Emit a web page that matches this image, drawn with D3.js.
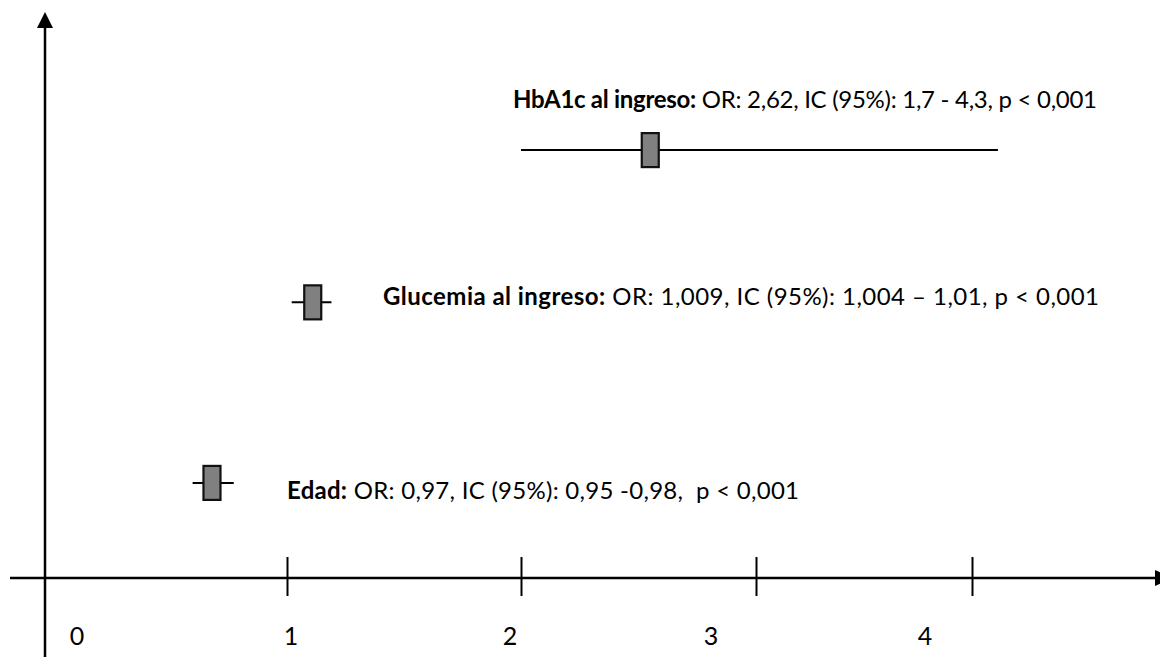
<!DOCTYPE html>
<html>
<head>
<meta charset="utf-8">
<script src="https://cdn.jsdelivr.net/npm/d3@7"></script>
<style>
  html, body { margin: 0; padding: 0; background: #fff; }
  svg { display: block; }
  text { font-family: Lato, "Open Sans", sans-serif; fill: #000; }
</style>
</head>
<body>
<svg id="chart" width="1160" height="657"></svg>
<script>
// ---- data (in axis units) ----
const variables   = ["HbA1c al ingreso", "Glucemia al ingreso", "Edad"];
const plottedOR   = [2.55, 1.11, 0.69];   // marker centre as drawn
const plottedLow  = [2.00, 1.02, 0.61];   // left end of drawn interval
const plottedHigh = [4.12, 1.19, 0.78];   // right end of drawn interval
const rowLevel    = [0.756, 0.487, 0.168]; // vertical placement (0 = x axis, 1 = top)
const statText    = [
  "OR: 2,62, IC (95%): 1,7 - 4,3, p < 0,001",
  "OR: 1,009, IC (95%): 1,004 \u2013 1,01, p < 0,001",
  "OR: 0,97, IC (95%): 0,95 -0,98,  p < 0,001"
];
const tickValues  = [1, 2, 3, 4];
const tickLabels  = ["0", "1", "2", "3", "4"];

// ---- layout ----
const W = 1160, H = 657;
const axisY = 578;
const svg = d3.select("#chart");

// hand-drawn axis: unevenly spaced ticks
const x = d3.scaleLinear().domain([0, 1, 2, 3, 4]).range([45, 287, 521, 756, 972]);
const y = d3.scaleLinear().domain([0, 1]).range([axisY, 12]);

// horizontal axis line with arrow
svg.append("line").attr("x1", 10).attr("x2", 1158).attr("y1", axisY).attr("y2", axisY)
  .attr("stroke", "#000").attr("stroke-width", 2.5);
svg.append("path").attr("d", `M1155,${axisY - 8} L1172,${axisY} L1155,${axisY + 8} Z`).attr("fill", "#000");

// vertical axis line with arrow
svg.append("line").attr("x1", x(0)).attr("x2", x(0)).attr("y1", 26).attr("y2", H)
  .attr("stroke", "#000").attr("stroke-width", 2.5);
svg.append("path").attr("d", `M${x(0) - 8},28 L${x(0)},12 L${x(0) + 8},28 Z`).attr("fill", "#000");

// ticks via d3 axis
const axisG = svg.append("g").attr("transform", `translate(0,${axisY})`)
  .call(d3.axisBottom(x).tickValues(tickValues).tickSize(18).tickFormat(""));
axisG.select(".domain").remove();
axisG.selectAll(".tick line").attr("y1", -21).attr("y2", 18).attr("stroke", "#000").attr("stroke-width", 2);

// tick labels (placed loosely as in the original)
const labelDx = [32, 4, -11, -45, -47];
svg.append("g").selectAll("text").data(tickLabels).join("text")
  .attr("x", (d, i) => x(i) + labelDx[i])
  .attr("y", 645)
  .attr("text-anchor", "middle")
  .attr("font-size", 25)
  .text(d => d);

// intervals and markers
const rows = variables.map((v, i) => ({
  v, or: plottedOR[i], lo: plottedLow[i], hi: plottedHigh[i], lvl: rowLevel[i], stat: statText[i]
}));

const g = svg.append("g");
g.selectAll("line.ci").data(rows).join("line").attr("class", "ci")
  .attr("x1", d => x(d.lo)).attr("x2", d => x(d.hi))
  .attr("y1", d => y(d.lvl)).attr("y2", d => y(d.lvl))
  .attr("stroke", "#000").attr("stroke-width", 2);

const bw = 17, bh = 34;
g.selectAll("rect.or").data(rows).join("rect").attr("class", "or")
  .attr("x", d => x(d.or) - bw / 2).attr("y", d => y(d.lvl) - bh / 2)
  .attr("width", bw).attr("height", bh)
  .attr("fill", "#808080").attr("stroke", "#111").attr("stroke-width", 2.2);

// annotations
const textX = [513, 383, 287];
const textW = [584, 716, 512];
const textDy = [-42, 3, 16];
const t = svg.append("g").selectAll("text").data(rows).join("text")
  .attr("x", (d, i) => textX[i])
  .attr("y", (d, i) => y(d.lvl) + textDy[i])
  .attr("font-size", 24)
  .attr("textLength", (d, i) => textW[i])
  .attr("lengthAdjust", "spacing")
  .attr("xml:space", "preserve")
  .style("white-space", "pre");
t.append("tspan").attr("font-weight", "bold").text(d => d.v + ":");
t.append("tspan").text(d => " " + d.stat);
</script>
</body>
</html>
